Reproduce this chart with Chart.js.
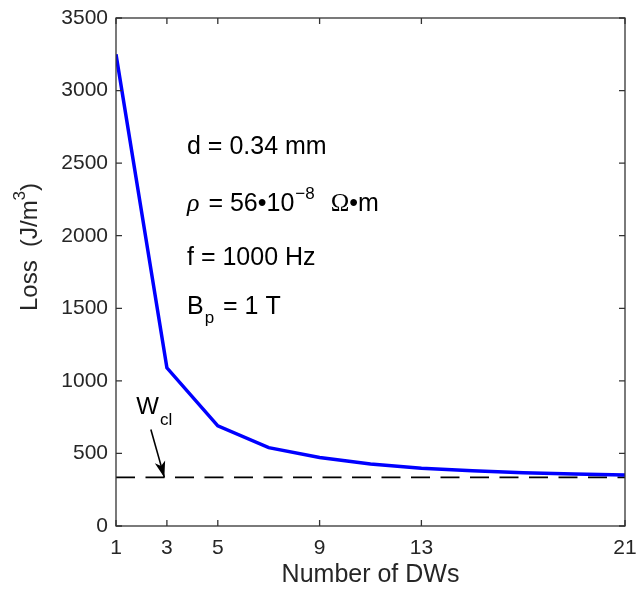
<!DOCTYPE html>
<html>
<head>
<meta charset="utf-8">
<script src="https://cdn.jsdelivr.net/npm/chart.js@4.4.0/dist/chart.umd.min.js"></script>
<style>
  html, body { margin: 0; padding: 0; background: #fff; }
</style>
</head>
<body>
<canvas id="loss-chart" width="636" height="590"></canvas>
<script>
// loss per number of domain walls
const numDWs = [1, 3, 5, 7, 9, 11, 13, 15, 17, 19, 21];
const lossValues = [3250, 1090, 690, 540, 472, 427, 398, 380, 367, 358, 351];
// classical loss W_cl (dashed line)
const classicalLoss = 335;
const xTickValues = [1, 3, 5, 9, 13, 21];
const yTickValues = [0, 500, 1000, 1500, 2000, 2500, 3000, 3500];

const textColor = "#262626";
const sans = "'Liberation Sans', Arial, Helvetica, sans-serif";
const serif = "'Liberation Serif', 'Times New Roman', serif";

// draw a row of text pieces one after the other (for sub/superscripts)
const drawParts = (ctx, x, y, parts) => {
  let cx = x;
  parts.forEach((p) => {
    ctx.font = p.font;
    ctx.fillText(p.text, cx, y + (p.dy || 0));
    cx += ctx.measureText(p.text).width + (p.gap || 0);
  });
};

// box around the plot with inward ticks, like matlab
const framePlugin = {
  id: "frame",
  afterDatasetsDraw(chart) {
    const { ctx, chartArea: a, scales } = chart;
    ctx.save();
    ctx.strokeStyle = "#333333";
    ctx.lineWidth = 1.3;
    ctx.strokeRect(a.left, a.top, a.right - a.left, a.bottom - a.top);
    const tl = 6;
    ctx.beginPath();
    xTickValues.forEach((v) => {
      const px = scales.x.getPixelForValue(v);
      ctx.moveTo(px, a.bottom);
      ctx.lineTo(px, a.bottom - tl);
      ctx.moveTo(px, a.top);
      ctx.lineTo(px, a.top + tl);
    });
    yTickValues.forEach((v) => {
      const py = scales.y.getPixelForValue(v);
      ctx.moveTo(a.left, py);
      ctx.lineTo(a.left + tl, py);
      ctx.moveTo(a.right, py);
      ctx.lineTo(a.right - tl, py);
    });
    ctx.stroke();
    ctx.restore();
  },
};

// axis titles and the text labels inside the plot
const textPlugin = {
  id: "texts",
  afterDraw(chart) {
    const { ctx, chartArea: a, scales } = chart;
    const x = scales.x;
    const y = scales.y;
    ctx.save();
    ctx.fillStyle = textColor;
    ctx.textBaseline = "alphabetic";

    // x title
    ctx.textAlign = "center";
    ctx.font = "25px " + sans;
    ctx.fillText("Number of DWs", (a.left + a.right) / 2, 582);

    // y title, rotated
    ctx.save();
    ctx.translate(37, 247);
    ctx.rotate(-Math.PI / 2);
    ctx.textAlign = "left";
    const yParts = [
      { text: "Loss  (J/m", font: "24px " + sans },
      { text: "3", font: "17px " + sans, dy: -12 },
      { text: ")", font: "24px " + sans },
    ];
    let w = 0;
    yParts.forEach((p) => {
      ctx.font = p.font;
      w += ctx.measureText(p.text).width;
    });
    drawParts(ctx, -w / 2, 0, yParts);
    ctx.restore();

    // parameter labels
    ctx.fillStyle = "#000000";
    ctx.textAlign = "left";
    const lx = a.left + 71;
    const big = "25px " + sans;
    drawParts(ctx, lx, 154, [{ text: "d = 0.34 mm", font: big }]);
    drawParts(ctx, lx, 211, [
      { text: "\u03c1", font: "italic 26px " + serif, gap: 2 },
      { text: " = 56\u202210", font: big, gap: 1 },
      { text: "\u22128", font: "17px " + sans, dy: -12, gap: 16 },
      { text: "\u03a9", font: "25px " + serif },
      { text: "\u2022m", font: big },
    ]);
    drawParts(ctx, lx, 265, [{ text: "f = 1000 Hz", font: big }]);
    drawParts(ctx, lx, 314, [
      { text: "B", font: big, gap: 1 },
      { text: "p", font: "17px " + sans, dy: 9, gap: 2 },
      { text: " = 1 T", font: big },
    ]);

    // W_cl label with arrow
    const wx = x.getPixelForValue(1.8);
    drawParts(ctx, wx, 414, [
      { text: "W", font: "24px " + sans, gap: 1 },
      { text: "cl", font: "17px " + sans, dy: 11 },
    ]);
    const tipX = x.getPixelForValue(2.9);
    const tipY = y.getPixelForValue(classicalLoss);
    const tailX = x.getPixelForValue(2.37);
    const tailY = y.getPixelForValue(665);
    ctx.strokeStyle = "#000000";
    ctx.lineWidth = 1.6;
    ctx.beginPath();
    ctx.moveTo(tailX, tailY);
    ctx.lineTo(tipX, tipY);
    ctx.stroke();
    const ang = Math.atan2(tipY - tailY, tipX - tailX);
    const hl = 17;
    const hw = 0.32;
    ctx.beginPath();
    ctx.moveTo(tipX, tipY);
    ctx.lineTo(tipX - hl * Math.cos(ang - hw), tipY - hl * Math.sin(ang - hw));
    ctx.lineTo(tipX - hl * 0.7 * Math.cos(ang), tipY - hl * 0.7 * Math.sin(ang));
    ctx.lineTo(tipX - hl * Math.cos(ang + hw), tipY - hl * Math.sin(ang + hw));
    ctx.closePath();
    ctx.fillStyle = "#000000";
    ctx.fill();
    ctx.restore();
  },
};

const canvas = document.getElementById("loss-chart");
const lossChart = new Chart(canvas, {
  type: "line",
  data: {
    datasets: [
      {
        label: "Loss",
        data: numDWs.map((n, i) => ({ x: n, y: lossValues[i] })),
        borderColor: "#0000ff",
        borderWidth: 3.5,
        pointRadius: 0,
        tension: 0,
      },
      {
        label: "W_cl",
        data: [
          { x: numDWs[0], y: classicalLoss },
          { x: numDWs[numDWs.length - 1], y: classicalLoss },
        ],
        borderColor: "#000000",
        borderWidth: 1.8,
        borderDash: [19, 10.5],
        pointRadius: 0,
      },
    ],
  },
  options: {
    responsive: false,
    animation: false,
    devicePixelRatio: 1,
    layout: { padding: { top: 18, right: 11, left: 0, bottom: 0 } },
    plugins: {
      legend: { display: false },
      tooltip: { enabled: false },
    },
    scales: {
      x: {
        type: "linear",
        min: 1,
        max: 21,
        grid: { display: false, drawTicks: false },
        border: { display: false },
        afterBuildTicks: (s) => {
          s.ticks = xTickValues.map((v) => ({ value: v }));
        },
        afterFit: (s) => {
          s.height = 64;
          s.paddingLeft = 0;
          s.paddingRight = 0;
        },
        ticks: {
          autoSkip: false,
          maxRotation: 0,
          padding: 10,
          color: textColor,
          font: { family: sans, size: 21 },
          callback: (v) => String(v),
        },
      },
      y: {
        min: 0,
        max: 3500,
        grid: { display: false, drawTicks: false },
        border: { display: false },
        afterBuildTicks: (s) => {
          s.ticks = yTickValues.map((v) => ({ value: v }));
        },
        afterFit: (s) => {
          s.width = 116;
          s.paddingTop = 0;
          s.paddingBottom = 0;
        },
        ticks: {
          padding: 8,
          color: textColor,
          font: { family: sans, size: 21 },
          callback: (v) => String(v),
        },
      },
    },
  },
  plugins: [framePlugin, textPlugin],
});
</script>
</body>
</html>
